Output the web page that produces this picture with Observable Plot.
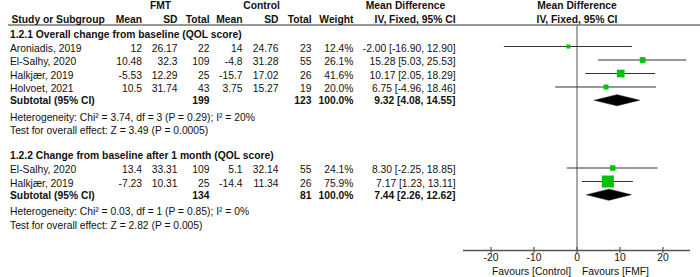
<!DOCTYPE html>
<html><head><meta charset="utf-8">
<script src="https://cdn.jsdelivr.net/npm/d3@7"></script>
<script src="https://cdn.jsdelivr.net/npm/@observablehq/plot@0.6"></script>
<style>body{margin:0;background:#fff;} svg{display:block}</style>
</head><body><div id="chart"></div>
<script>
// ---------- data ----------
const groupTitles = ["1.2.1 Overall change from baseline (QOL score)", "1.2.2 Change from baseline after 1 month (QOL score)"];
const studyGroup = [0, 0, 0, 0, 1, 1];
const studies = ["Aroniadis, 2019", "El-Salhy, 2020", "Halkjær, 2019", "Holvoet, 2021", "El-Salhy, 2020", "Halkjær, 2019"];
const fmtMean = [12, 10.48, -5.53, 10.5, 13.4, -7.23];
const fmtSD = [26.17, 32.3, 12.29, 31.74, 33.31, 10.31];
const fmtTotal = [22, 109, 25, 43, 109, 25];
const ctlMean = [14, -4.8, -15.7, 3.75, 5.1, -14.4];
const ctlSD = [24.76, 31.28, 17.02, 15.27, 32.14, 11.34];
const ctlTotal = [23, 55, 26, 19, 55, 26];
const weight = [12.4, 26.1, 41.6, 20.0, 24.1, 75.9];
const md = [-2.00, 15.28, 10.17, 6.75, 8.30, 7.17];
const ciLow = [-16.90, 5.03, 2.05, -4.96, -2.25, 1.23];
const ciHigh = [12.90, 25.53, 18.29, 18.46, 18.85, 13.11];
const subFmtTotal = [199, 134];
const subCtlTotal = [123, 81];
const subMd = [9.32, 7.44];
const subLow = [4.08, 2.26];
const subHigh = [14.55, 12.62];
const heterogeneity = ["Heterogeneity: Chi² = 3.74, df = 3 (P = 0.29); I² = 20%", "Heterogeneity: Chi² = 0.03, df = 1 (P = 0.85); I² = 0%"];
const overallEffect = ["Test for overall effect: Z = 3.49 (P = 0.0005)", "Test for overall effect: Z = 2.82 (P = 0.005)"];
const xTicks = [-20, -10, 0, 10, 20];
const xDomain = [-26.4, 26.4];
const favourLabels = ["Favours [Control]", "Favours [FMF]"];

// ---------- layout ----------
const W = 700, H = 277, MB = 27;
const FONT = "Liberation Sans, Arial, Helvetica, sans-serif";
const FS = 10.3;
const TXT = "#111";
const cols = {
  study: {x: 9.5, anchor: "start"},
  studyHdr: {x: 11, anchor: "start"},
  fmtHead: {x: 160, anchor: "middle"},
  ctlHead: {x: 261, anchor: "middle"},
  mdHead: {x: 405, anchor: "middle"},
  fmtMean: {x: 141.5, anchor: "end"},
  fmtSD: {x: 177, anchor: "end"},
  fmtTotal: {x: 209, anchor: "end"},
  ctlMean: {x: 242, anchor: "end"},
  ctlSD: {x: 278, anchor: "end"},
  ctlTotal: {x: 311, anchor: "end"},
  weight: {x: 353, anchor: "end"},
  ci: {x: 455, anchor: "end"}
};
const ciText = (m, l, h) => `${m.toFixed(2)} [${l.toFixed(2)}, ${h.toFixed(2)}]`;

const cells = [], forest = [], diamonds = [];
let row = 0;
cells.push({row, col: "fmtHead", text: "FMT", bold: true});
cells.push({row, col: "ctlHead", text: "Control", bold: true});
cells.push({row, col: "mdHead", text: "Mean Difference", bold: true});
row += 1;
const hdrRow = row;
[["studyHdr", "Study or Subgroup"], ["fmtMean", "Mean"], ["fmtSD", "SD"], ["fmtTotal", "Total"],
 ["ctlMean", "Mean"], ["ctlSD", "SD"], ["ctlTotal", "Total"], ["weight", "Weight"], ["ci", "IV, Fixed, 95% CI"]]
  .forEach(([c, t]) => cells.push({row, col: c, text: t, bold: true}));

groupTitles.forEach((title, g) => {
  row += g === 0 ? 1.1 : 1.85;
  cells.push({row, col: "study", text: title, bold: true});
  let first = true;
  studies.forEach((s, i) => {
    if (studyGroup[i] !== g) return;
    row += first ? 1.05 : 1; first = false;
    cells.push({row, col: "study", text: s});
    cells.push({row, col: "fmtMean", text: String(fmtMean[i])});
    cells.push({row, col: "fmtSD", text: String(fmtSD[i])});
    cells.push({row, col: "fmtTotal", text: String(fmtTotal[i])});
    cells.push({row, col: "ctlMean", text: String(ctlMean[i])});
    cells.push({row, col: "ctlSD", text: String(ctlSD[i])});
    cells.push({row, col: "ctlTotal", text: String(ctlTotal[i])});
    cells.push({row, col: "weight", text: weight[i].toFixed(1) + "%"});
    cells.push({row, col: "ci", text: ciText(md[i], ciLow[i], ciHigh[i])});
    forest.push({row, md: md[i], lo: ciLow[i], hi: ciHigh[i], w: weight[i]});
  });
  row += 0.9;
  cells.push({row, col: "study", text: "Subtotal (95% CI)", bold: true});
  cells.push({row, col: "fmtTotal", text: String(subFmtTotal[g]), bold: true});
  cells.push({row, col: "ctlTotal", text: String(subCtlTotal[g]), bold: true});
  cells.push({row, col: "weight", text: "100.0%", bold: true});
  cells.push({row, col: "ci", text: ciText(subMd[g], subLow[g], subHigh[g]), bold: true});
  const dh = 0.41;
  diamonds.push({g, x: subLow[g], y: row}, {g, x: subMd[g], y: row - dh}, {g, x: subHigh[g], y: row}, {g, x: subMd[g], y: row + dh});
  row += 1.2;
  cells.push({row, col: "study", text: heterogeneity[g]});
  row += 1;
  cells.push({row, col: "study", text: overallEffect[g]});
});

const yOpts = {domain: [0, 16], range: [5, 5 + 16 * 13.5]};
const yS = Plot.scale({y: yOpts});
const yPix = (p) => yS.invert(p);

const textMarks = [];
for (const [key, c] of Object.entries(cols)) {
  for (const bold of [false, true]) {
    const d = cells.filter(e => e.col === key && !!e.bold === bold);
    if (!d.length) continue;
    textMarks.push(Plot.text(d, {
      y: "row", text: "text", frameAnchor: "left", dx: c.x, dy: 0.5,
      textAnchor: c.anchor, fontWeight: bold ? "bold" : "normal", fill: TXT, fontSize: FS
    }));
  }
}

const chart = Plot.plot({
  width: W, height: H,
  marginLeft: 0, marginRight: 0, marginTop: 0, marginBottom: MB,
  style: {fontFamily: FONT, fontSize: FS + "px", background: "#fff", color: TXT},
  x: {domain: xDomain, range: [463, 690], axis: null},
  y: {...yOpts, axis: null},
  r: {type: "linear", domain: [0, 100], range: [1.4, 8.5]},
  marks: [
    // header underline
    Plot.ruleY([yPix(24.5)], {stroke: "#333", strokeWidth: 1.2, insetLeft: 8}),
    // line of no effect
    Plot.ruleX([0], {stroke: "#7a7a7a", strokeWidth: 1.3, insetTop: 25}),
    // axis line and ticks
    Plot.ruleY([yPix(H - MB)], {x1: xDomain[0], x2: xDomain[1], stroke: "#555", strokeWidth: 1.3}),
    Plot.ruleX(xTicks, {y1: yPix(H - MB - 3), y2: yPix(H - MB + 3), stroke: "#555", strokeWidth: 1.2}),
    Plot.axisX({ticks: xTicks, tickSize: 0, tickPadding: 3, tickFormat: d => String(d), fontSize: FS, fill: TXT}),
    Plot.text([favourLabels[0]], {x: () => 0, y: () => yPix(271), text: d => d, textAnchor: "end", dx: -6, fill: TXT, fontSize: FS}),
    Plot.text([favourLabels[1]], {x: () => 0, y: () => yPix(271), text: d => d, textAnchor: "start", dx: 5, fill: TXT, fontSize: FS}),
    // right headers
    Plot.text(["Mean Difference", "IV, Fixed, 95% CI"], {x: () => 0, y: (d, i) => i === 0 ? 0 : hdrRow, text: d => d, fontWeight: "bold", fill: TXT, fontSize: FS, dy: 0.5}),
    // confidence intervals
    Plot.ruleY(forest, {y: "row", x1: "lo", x2: "hi", stroke: "#333", strokeWidth: 1.1, dy: -1.5}),
    Plot.dot(forest, {x: "md", y: "row", r: "w", symbol: "square", fill: "#00c400", stroke: "none", dy: -1.5}),
    // subtotal diamonds
    Plot.line(diamonds, {x: "x", y: "y", z: "g", curve: "linear-closed", fill: "#000", stroke: "#000", strokeWidth: 0.5, dy: -0.5}),
    ...textMarks
  ]
});
document.getElementById("chart").appendChild(chart);
</script>
</body></html>
